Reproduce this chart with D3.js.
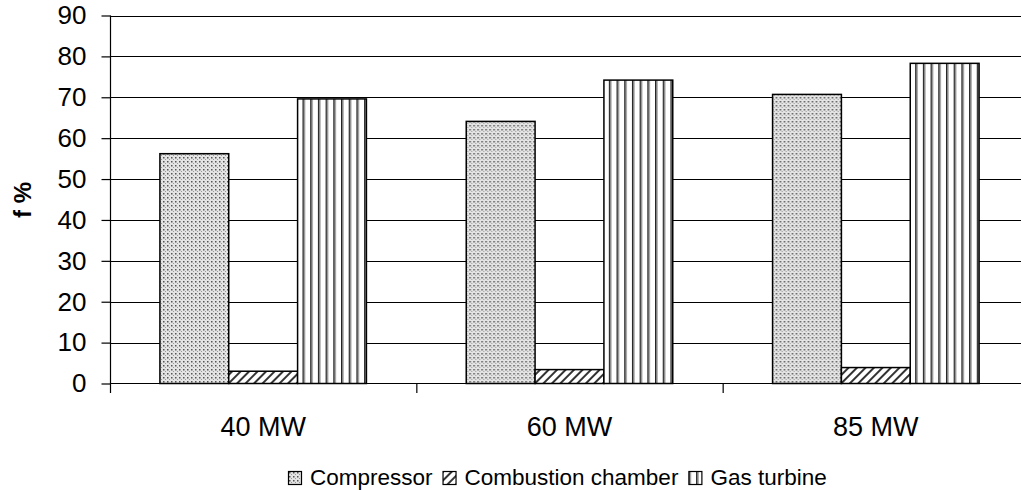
<!DOCTYPE html>
<meta charset="utf-8">
<script src="https://d3js.org/d3.v7.min.js"></script>
<style>
    body { margin: 0; background: #fff; }
    svg { font-family: "Liberation Sans", Arial, sans-serif; }
</style>
<body>
<div id="chart"></div>
<script>
    // data
    var categories = ["40 MW", "60 MW", "85 MW"];
    var series = ["Compressor", "Combustion chamber", "Gas turbine"];
    var compressor = [56.2, 64.1, 70.7];
    var combustion = [3.0, 3.4, 3.9];
    var gasTurbine = [69.6, 74.2, 78.3];
    var yTicks = [0, 10, 20, 30, 40, 50, 60, 70, 80, 90];

    const width = 1021, height = 490;
    var values = [compressor, combustion, gasTurbine];

    var svg = d3.select("#chart").append("svg")
        .attr("width", width).attr("height", height);

    var defs = svg.append("defs");
    // dotted fill
    var p1 = defs.append("pattern").attr("id", "dots")
        .attr("patternUnits", "userSpaceOnUse").attr("width", 4).attr("height", 4);
    p1.append("rect").attr("width", 4).attr("height", 4).attr("fill", "#e4e4e4");
    p1.append("rect").attr("x", 1).attr("y", 1).attr("width", 1.5).attr("height", 1.5).attr("fill", "#555");
    p1.append("rect").attr("x", 3).attr("y", 3).attr("width", 1).attr("height", 1).attr("fill", "#999");
    // diagonal hatch
    var p2 = defs.append("pattern").attr("id", "hatch")
        .attr("patternUnits", "userSpaceOnUse").attr("width", 6).attr("height", 6)
        .attr("patternTransform", "rotate(45)");
    p2.append("rect").attr("width", 6).attr("height", 6).attr("fill", "#fff");
    p2.append("rect").attr("x", 0).attr("width", 2).attr("height", 6).attr("fill", "#333");
    // vertical stripes
    var p3 = defs.append("pattern").attr("id", "vstripe")
        .attr("patternUnits", "userSpaceOnUse").attr("width", 7.7).attr("height", 10);
    p3.append("rect").attr("width", 7.7).attr("height", 10).attr("fill", "#fff");
    p3.append("rect").attr("x", 0).attr("width", 1.6).attr("height", 10).attr("fill", "#222");
    p3.append("rect").attr("x", 1.6).attr("width", 1.2).attr("height", 10).attr("fill", "#aaa");
    var fills = ["url(#dots)", "url(#hatch)", "url(#vstripe)"];

    var x0 = d3.scaleBand().domain(categories).range([110, 1029]).padding(0);
    var x1 = d3.scaleBand().domain(d3.range(series.length))
        .range([0, x0.bandwidth()]).paddingInner(0).paddingOuter(0.725);
    var y = d3.scaleLinear().domain([0, 90]).range([383.5, 15.5]);

    // gridlines
    svg.append("g").selectAll("line").data(yTicks.slice(1)).join("line")
        .attr("x1", 110).attr("x2", width)
        .attr("y1", d => Math.round(y(d)) + 0.5).attr("y2", d => Math.round(y(d)) + 0.5)
        .attr("stroke", "#000").attr("stroke-width", 1);

    // bars
    var groups = svg.append("g").selectAll("g").data(categories).join("g")
        .attr("transform", d => "translate(" + x0(d) + ",0)");
    groups.selectAll("rect")
        .data((c, i) => values.map((s, j) => ({ s: j, v: s[i] })))
        .join("rect")
        .attr("x", d => x1(d.s))
        .attr("y", d => y(d.v))
        .attr("width", x1.bandwidth())
        .attr("height", d => y(0) - y(d.v))
        .attr("fill", d => fills[d.s])
        .attr("stroke", "#000").attr("stroke-width", 1.5);

    // y axis
    var yAxis = d3.axisLeft(y).tickValues(yTicks).tickSize(9).tickPadding(15);
    var gy = svg.append("g").attr("transform", "translate(110.5,0)").call(yAxis);
    gy.attr("font-family", null);
    gy.select(".domain").attr("d", "M0," + 15.5 + "V" + 393);
    gy.selectAll("text").style("font-size", "26px").attr("fill", "#000");
    gy.selectAll("line, path").attr("stroke", "#000").attr("stroke-width", 1.2);

    // x axis
    var xg = svg.append("g");
    xg.append("line").attr("x1", 110).attr("x2", width)
        .attr("y1", 383.5).attr("y2", 383.5).attr("stroke", "#000").attr("stroke-width", 1.2);
    xg.selectAll(".xt").data(categories.slice(1)).join("line")
        .attr("x1", d => x0(d) + 0.5).attr("x2", d => x0(d) + 0.5)
        .attr("y1", 383.5).attr("y2", 393).attr("stroke", "#000").attr("stroke-width", 1.2);
    xg.selectAll("text").data(categories).join("text")
        .attr("x", d => x0(d) + x0.bandwidth() / 2)
        .attr("y", 436)
        .attr("text-anchor", "middle")
        .style("font-size", "27px")
        .text(d => d);

    // y label
    svg.append("text")
        .attr("transform", "translate(31,200) rotate(-90)")
        .attr("text-anchor", "middle")
        .style("font-size", "24px").attr("font-weight", "bold")
        .text("f %");

    // legend
    var legend = svg.append("g").attr("transform", "translate(288,471)");
    var lx = 0;
    series.forEach(function (s, i) {
        var g = legend.append("g").attr("transform", "translate(" + lx + ",0)");
        g.append("rect").attr("x", 0.5).attr("y", 0.5).attr("width", 13).attr("height", 13)
            .attr("fill", fills[i]).attr("stroke", "#000").attr("stroke-width", 1.2);
        var t = g.append("text").attr("x", 22).attr("y", 13.5).style("font-size", "22.5px").text(s);
        lx += 22 + t.node().getComputedTextLength() + 10;
    });
</script>
</body>
